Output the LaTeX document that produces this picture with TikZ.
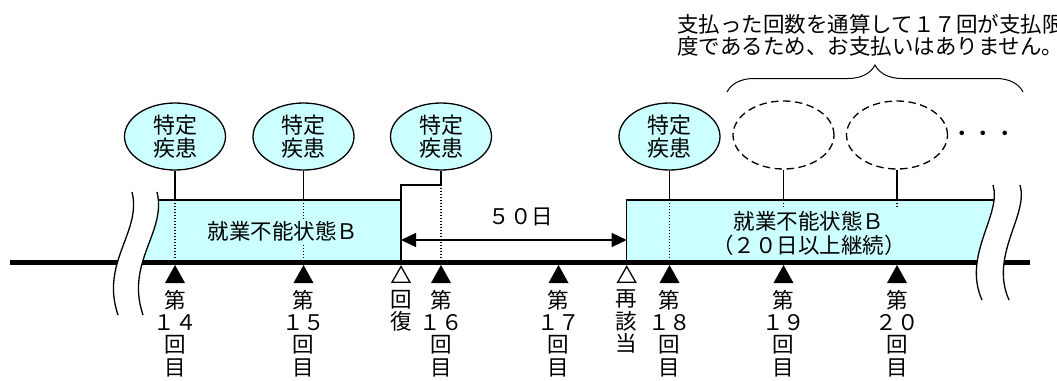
\documentclass[tikz,border=0pt]{standalone}
\usepackage{fontspec}
\setmainfont{Noto Sans CJK JP}
\usetikzlibrary{arrows.meta,decorations.pathreplacing,shapes.geometric}
\definecolor{boxfill}{HTML}{CCFFFF}
\begin{document}
\begin{tikzpicture}[x=1pt,y=-1pt,
  lw/.style={line width=1.3pt},
  dotline/.style={line width=1.3pt,dash pattern=on 1.3pt off 1.7pt},
  bubble/.style={ellipse,draw,lw,fill=boxfill,minimum width=101pt,minimum height=67pt,inner sep=0pt,align=center,font=\fontsize{22}{23.5}\selectfont},
  ghost/.style={ellipse,draw,lw,dash pattern=on 7.5pt off 4.5pt,minimum width=101pt,minimum height=68pt,inner sep=0pt},
  boxtext/.style={fill=boxfill,inner sep=3pt,align=center,font=\fontsize{21.5}{23.5}\selectfont},
  lab/.style={anchor=north,inner sep=0pt,align=center,font=\fontsize{21.5}{22.3}\selectfont},
  tri/.style={fill=black},
  htri/.style={lw,fill=white}
]
\clip (0,0) rectangle (1057,380);
% box fills
\begin{scope}
\clip (0,200) rectangle (1057,262.5);
\fill[boxfill] (157,192) .. controls (167,232) and (125,262) .. (143,315) -- (401,315) -- (401,185) -- cycle;
\fill[boxfill] (626.7,185) -- (993,185) .. controls (1002,215) and (962,255) .. (982,300) -- (626.7,300) -- cycle;
\end{scope}
% dotted lines
\foreach \x in {175,303.5,669.5,783.5,897} \draw[dotline] (\x,200) -- (\x,262);
\draw[dotline] (441,185) -- (441,262);
% box outlines
\draw[lw] (158.3,200) -- (401,200);
\draw[lw] (626.7,262) -- (626.7,200) -- (994,200);
% main line
\draw[line width=5pt] (10,262.5) -- (1030,262.5);
% break marks
\fill[white] (132,192) .. controls (142,232) and (100,262) .. (118,315) -- (143,315) .. controls (125,262) and (167,232) .. (157,192) -- cycle;
\fill[white] (993,185) .. controls (1002,215) and (962,255) .. (982,300) -- (1009,300) .. controls (989,255) and (1029,215) .. (1020,185) -- cycle;
\draw[lw] (132,192) .. controls (142,232) and (100,262) .. (118,315);
\draw[lw] (157,192) .. controls (167,232) and (125,262) .. (143,315);
\draw[lw] (993,185) .. controls (1002,215) and (962,255) .. (982,300);
\draw[lw] (1020,185) .. controls (1029,215) and (989,255) .. (1009,300);
% bubbles
\node[bubble] (e1) at (175,136.5) {特定\\疾患};
\node[bubble] (e2) at (303.5,136.5) {特定\\疾患};
\node[bubble] (e3) at (441,136.5) {特定\\疾患};
\node[bubble] (e4) at (669.5,136.5) {特定\\疾患};
\node[ghost] (e5) at (783.5,135) {};
\node[ghost] (e6) at (897,135) {};
\node[inner sep=0pt,font=\fontsize{21.5}{21.5}\selectfont] (dots) at (983.5,136.7) {・・・};
% stems
\draw[lw] (e1.south) -- (175,200);
\draw[lw] (e2.south) -- (303.5,200);
\draw[lw] (e3.south) -- (441,185) -- (401,185) -- (401,262.5);
\draw[lw] (e4.south) -- (669.5,200);
\draw[lw] (e5.south) -- (783.5,200);
\draw[lw] (e6.south) -- (897,200);
% interval arrow
\coordinate (rec) at (401,240);
\coordinate (re) at (626.7,240);
\draw[lw,{Triangle[length=15pt,width=14pt]}-{Triangle[length=15pt,width=14pt]}] (rec) -- (re);
\node[inner sep=0pt,font=\fontsize{21.5}{23}\selectfont] (d50) at (521,217) {５０日};
% box texts
\node[boxtext] (b1) at (283,231.7) {就業不能状態Ｂ};
\node[boxtext] (b2) at (809,233.5) {就業不能状態Ｂ\\（２０日以上継続）};
% triangles
\foreach \x in {175,303.5,441,558.5,669.5,783.5,897} \fill[tri] (\x,265) -- (\x-10,283) -- (\x+10,283) -- cycle;
\foreach \x in {401,626.7} \draw[htri] (\x,266.5) -- (\x-9,282.3) -- (\x+9,282.3) -- cycle;
% labels
\node[lab] (l14) at (175,290) {第\\１４\\回\\目};
\node[lab] (l15) at (303.5,290) {第\\１５\\回\\目};
\node[lab] (lrec) at (401,290) {回\\復};
\node[lab] (l16) at (441,290) {第\\１６\\回\\目};
\node[lab] (l17) at (558.5,290) {第\\１７\\回\\目};
\node[lab] (lre) at (626.7,290) {再\\該\\当};
\node[lab] (l18) at (669.5,290) {第\\１８\\回\\目};
\node[lab] (l19) at (783.5,290) {第\\１９\\回\\目};
\node[lab] (l20) at (897,290) {第\\２０\\回\\目};
% brace and note
\coordinate (bl) at (727,92);
\coordinate (br) at (1023,92);
\draw[line width=1pt,decorate,decoration={brace,amplitude=27pt}] (bl) -- (br);
\node[anchor=north west,align=left,inner sep=0pt,font=\fontsize{21.5}{21.5}\selectfont] (note) at (677,14.5) {支払った回数を通算して１７回が支払限\\度であるため、お支払いはありません。};
\end{tikzpicture}
\end{document}
